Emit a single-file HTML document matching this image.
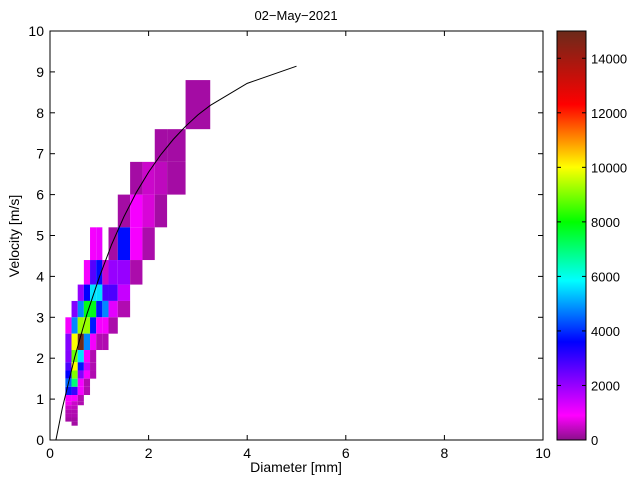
<!DOCTYPE html>
<html><head><meta charset="utf-8"><style>
html,body{margin:0;padding:0;background:#fff;}
svg text{font-family:"Liberation Sans",sans-serif;fill:#000;}
</style></head><body>
<svg id="chart" width="640" height="480" xmlns="http://www.w3.org/2000/svg">
<defs>
<linearGradient id="cmap" x1="0" y1="1" x2="0" y2="0">
<stop offset="0" stop-color="#8a108a"/>
<stop offset="0.06" stop-color="#ff00ff"/>
<stop offset="0.24" stop-color="#0000ff"/>
<stop offset="0.39" stop-color="#00ffff"/>
<stop offset="0.533" stop-color="#00ff00"/>
<stop offset="0.667" stop-color="#ffff00"/>
<stop offset="0.82" stop-color="#ff0000"/>
<stop offset="1" stop-color="#6b2a1a"/>
</linearGradient>
</defs>
<g id="cells"></g>
<polyline id="fit" fill="none" stroke="#000" stroke-width="1"/>
<rect x="50" y="31" width="493" height="409" fill="none" stroke="#000" stroke-width="1"/>
<g id="axes"></g>
<text x="296" y="20" font-size="13" text-anchor="middle">02−May−2021</text>
<text x="296" y="472" font-size="14" text-anchor="middle">Diameter [mm]</text>
<text x="19" y="236" font-size="14" text-anchor="middle" transform="rotate(-90 19 236)">Velocity [m/s]</text>
<rect x="557" y="31" width="29" height="409" fill="url(#cmap)" stroke="#000" stroke-width="1"/>
<g id="cbar"></g>
</svg>
<script>
const dEdges=[0.062,0.187,0.312,0.437,0.562,0.687,0.812,0.937,1.062,1.187,1.375,1.625,1.875,2.125,2.375,2.75,3.25,3.75];
const vEdges=[0.05,0.15,0.25,0.35,0.45,0.55,0.65,0.75,0.85,0.95,1.1,1.3,1.5,1.7,1.9,2.2,2.6,3.0,3.4,3.8,4.4,5.2,6.0,6.8,7.6,8.8,9.6];
const cellD=[15,13,14,11,12,13,14,10,11,12,13,6,7,9,10,11,12,5,6,7,8,9,10,11,4,5,6,7,8,9,10,3,4,5,6,7,8,9,10,2,3,4,5,6,7,8,9,2,3,4,5,6,7,8,2,3,4,5,6,2,3,4,5,6,2,3,4,5,6,2,3,4,5,2,3,4,5,2,3,4,2,3,4,2,3,2,3,2,3,2,3,3];
const cellV=[24,23,23,22,22,22,22,21,21,21,21,20,20,20,20,20,20,19,19,19,19,19,19,19,18,18,18,18,18,18,18,17,17,17,17,17,17,17,17,16,16,16,16,16,16,16,16,15,15,15,15,15,15,15,14,14,14,14,14,13,13,13,13,13,12,12,12,12,12,11,11,11,11,10,10,10,10,9,9,9,8,8,8,7,7,6,6,5,5,4,4,3];
const cellVal=[200,200,200,200,500,400,200,200,1000,600,200,1000,1100,200,3700,1000,250,1000,2700,3700,500,2000,2000,250,2000,3600,5600,5600,2800,2800,1500,2200,4800,7800,7800,3800,4800,1200,300,1000,4800,9200,9200,3800,1000,1000,250,2200,10000,15000,4800,1000,300,300,2200,8800,5600,1000,300,2800,10000,3800,1500,300,3600,9000,2200,1000,300,4500,7000,1000,300,3800,3000,1000,300,1000,1000,300,800,500,300,500,400,300,300,300,300,200,200,200];
const fitD=[0.12,0.25,0.5,0.75,1,1.25,1.5,1.75,2,2.25,2.5,2.75,3,3.25,4,5];
const fitV=[0,0.78,2.02,3.08,3.98,4.78,5.46,6.05,6.55,6.98,7.35,7.67,7.95,8.18,8.72,9.14];
const xTicks=[0,2,4,6,8,10];
const yTicks=[0,1,2,3,4,5,6,7,8,9,10];
const cTicks=[0,2000,4000,6000,8000,10000,12000,14000];

const NS='http://www.w3.org/2000/svg';
const X=d=>50+d*49.3, Y=v=>440-v*40.9, C=c=>440-c/15000*409;
const stops=[[0,[138,16,138]],[900,[255,0,255]],[3600,[0,0,255]],[5850,[0,255,255]],[8000,[0,255,0]],[10000,[255,255,0]],[12300,[255,0,0]],[15000,[107,42,26]]];
function col(v){for(let i=1;i<stops.length;i++){if(v<=stops[i][0]){const a=stops[i-1],b=stops[i],t=(v-a[0])/(b[0]-a[0]);return 'rgb('+a[1].map((c,k)=>Math.round(c+(b[1][k]-c)*t)).join(',')+')';}}return 'rgb(107,42,26)';}
const g=document.getElementById('cells');
for(let i=0;i<cellVal.length;i++){
 const r=document.createElementNS(NS,'rect');
 const x0=X(dEdges[cellD[i]]),x1=X(dEdges[cellD[i]+1]),y0=Y(vEdges[cellV[i]+1]),y1=Y(vEdges[cellV[i]]);
 r.setAttribute('x',x0);r.setAttribute('y',y0);r.setAttribute('width',x1-x0);r.setAttribute('height',y1-y0);
 r.setAttribute('fill',col(cellVal[i]));
 
 
 g.appendChild(r);
}
document.getElementById('fit').setAttribute('points',fitD.map((d,i)=>X(d)+','+Y(fitV[i])).join(' '));
const ax=document.getElementById('axes');
function add(par,tag,attrs,txt){const e=document.createElementNS(NS,tag);for(const k in attrs)e.setAttribute(k,attrs[k]);if(txt!==undefined)e.textContent=txt;par.appendChild(e);return e;}
xTicks.forEach(t=>{
 add(ax,'line',{x1:X(t),x2:X(t),y1:440,y2:435,stroke:'#000'});
 add(ax,'line',{x1:X(t),x2:X(t),y1:31,y2:36,stroke:'#000'});
 const e=add(ax,'text',{x:X(t),y:458,'font-size':14,'text-anchor':'middle'},t);
 
 
});
yTicks.forEach(t=>{
 add(ax,'line',{x1:50,x2:55,y1:Y(t),y2:Y(t),stroke:'#000'});
 add(ax,'line',{x1:543,x2:538,y1:Y(t),y2:Y(t),stroke:'#000'});
 const e=add(ax,'text',{x:44,y:Y(t)+5,'font-size':14,'text-anchor':'end'},t);
 
 
});
const cb=document.getElementById('cbar');
cTicks.forEach(t=>{
 add(cb,'line',{x1:557,x2:561,y1:C(t),y2:C(t),stroke:'#000'});
 add(cb,'line',{x1:586,x2:582,y1:C(t),y2:C(t),stroke:'#000'});
 const e=add(cb,'text',{x:591,y:C(t)+5,'font-size':13},t);
 
 
});
</script>
</body></html>
